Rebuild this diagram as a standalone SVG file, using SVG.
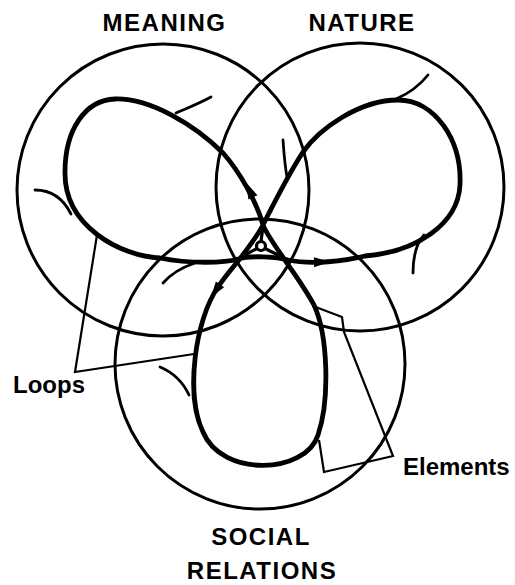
<svg xmlns="http://www.w3.org/2000/svg" width="515" height="585" viewBox="0 0 515 585">
<defs>
<style>
.ring{fill:none;stroke:#000;stroke-width:3}
.loop{fill:none;stroke:#000;stroke-width:4.8;stroke-linecap:round;stroke-linejoin:round}
.branch{fill:none;stroke:#000;stroke-width:2.8;stroke-linecap:round}
.ptr{fill:none;stroke:#000;stroke-width:2.2;stroke-linejoin:miter}
.title{font-family:"Liberation Sans",Arial,sans-serif;font-weight:bold;font-size:24px;letter-spacing:1.5px;text-anchor:middle;fill:#000}
.lbl{font-family:"Liberation Sans",Arial,sans-serif;font-weight:bold;font-size:24px;fill:#000}
.hub{fill:none;stroke:#000;stroke-width:3.2}
</style>
<path id="ah" d="M9,0 L-7,-5 L-7,5 Z" fill="#000"/>
</defs>
<rect width="515" height="585" fill="#fff"/>
<g id="meaning">
<circle class="ring" cx="163" cy="190" r="146"/>
<text class="title" x="164.5" y="31">MEANING</text>
</g>
<g id="nature">
<circle class="ring" cx="360" cy="187" r="144"/>
<text class="title" x="362" y="31">NATURE</text>
</g>
<g id="social">
<circle class="ring" cx="260" cy="364" r="145"/>
<text class="title" x="261" y="545">SOCIAL</text>
<text class="title" x="262" y="579">RELATIONS</text>
</g>
<g id="connectors">
<path class="loop" d="M263,225 C269,241 300,278 314,305 C328,335 330,400 318,435 C306,474 222,478 203,432 C185,395 195,320 218,287 C226,275 236,264 242,256 C250,245 258,235 263,225 C268,215 290,172 303,152 C320,128 360,100 398,100 C435,100 462,140 460,185 C458,225 415,252 365,256 C345,261 312,265 288,260 C278,257 250,255 238,259 C225,263 190,264 160,258 C120,256 64,226 65,172 C65,130 85,100 115,99 C150,98 195,125 223,153 C240,172 257,203 263,225"/>
<use href="#ah" transform="translate(250,191) rotate(-115)"/>
<use href="#ah" transform="translate(321,262) rotate(-2)"/>
<use href="#ah" transform="translate(216,290) rotate(125)"/>
<path class="branch" d="M211,97 C200,103 190,107 176,113"/>
<path class="branch" d="M35,190 C50,190 63,198 71,214"/>
<path class="branch" d="M163,283 C170,275 180,268 195,263"/>
<path class="branch" d="M428,75 C420,85 410,93 396,99"/>
<path class="branch" d="M413,273 C413,258 415,245 424,235"/>
<path class="branch" d="M283,140 C284,155 285,166 287,177"/>
<path class="branch" d="M160,367 C172,372 182,380 189,395"/>
</g>
<g id="center">
<circle class="hub" cx="261" cy="246" r="4.5"/>
<path class="hub" d="M261,241.5 L263,226 M257,248.5 L243,256 M265,248.5 L280,256"/>
</g>
<g id="loops-label">
<path class="ptr" d="M97,235 L75,372 L194,354"/>
<text class="lbl" x="13" y="393">Loops</text>
</g>
<g id="elements-label">
<path class="ptr" d="M313,306 L342,317 L344,332 L393,456 L324,472 L319,440"/>
<text class="lbl" x="403" y="475">Elements</text>
</g>
</svg>
